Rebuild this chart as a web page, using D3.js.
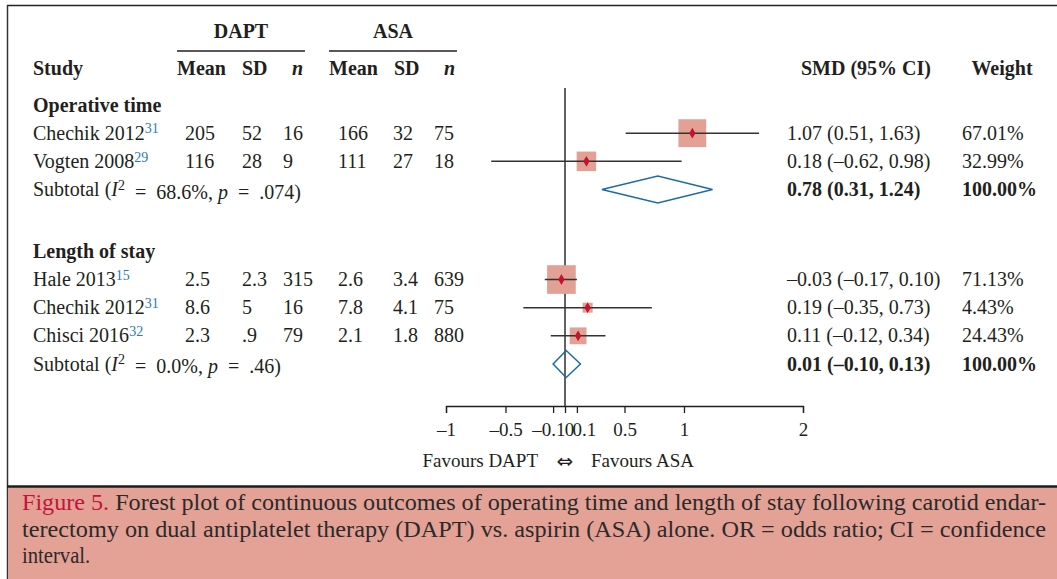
<!DOCTYPE html>
<html>
<head>
<meta charset="utf-8">
<script src="https://cdn.jsdelivr.net/npm/d3@7"></script>
<style>
  body { margin: 0; background: #fff; }
  svg { display: block; }
</style>
</head>
<body>
<svg id="chart" width="1057" height="579"></svg>
<script>
'use strict';

// ---- data ----
var groupLabels = ['Operative time', 'Length of stay'];
var studyNames = ['Chechik 2012', 'Vogten 2008', 'Hale 2013', 'Chechik 2012', 'Chisci 2016'];
var studyRefs = ['31', '29', '15', '31', '32'];
var daptMean = ['205', '116', '2.5', '8.6', '2.3'];
var daptSd = ['52', '28', '2.3', '5', '.9'];
var daptN = ['16', '9', '315', '16', '79'];
var asaMean = ['166', '111', '2.6', '7.8', '2.1'];
var asaSd = ['32', '27', '3.4', '4.1', '1.8'];
var asaN = ['75', '18', '639', '75', '880'];
var smd = [1.07, 0.18, -0.03, 0.19, 0.11];
var ciLow = [0.51, -0.62, -0.17, -0.35, -0.12];
var ciHigh = [1.63, 0.98, 0.10, 0.73, 0.34];
var weights = [67.01, 32.99, 71.13, 4.43, 24.43];
var subSmd = [0.78, 0.01];
var subLow = [0.31, -0.10];
var subHigh = [1.24, 0.13];
var subI2 = ['68.6%', '0.0%'];
var subP = ['.074', '.46'];
var axisTicks = [-1, -0.5, -0.1, 0, 0.1, 0.5, 1, 2];

var captionLines = [
    'Forest plot of continuous outcomes of operating time and length of stay following carotid endar-',
    'terectomy on dual antiplatelet therapy (DAPT) vs. aspirin (ASA) alone. OR = odds ratio; CI = confidence',
    'interval.'
];

// row index of each line (group header, studies, subtotal)
var groupRow = [0, 5.2];
var studyRow = [1, 2, 6.2, 7.2, 8.2];
var subRow = [3, 9.2];

var ink = '#231f20';
var serif = '"Liberation Serif", "Times New Roman", serif';
var fontSize = 20;

var svg = d3.select('#chart');

var x = d3.scaleLinear().domain([-1, 2]).range([446, 803]);
var y = d3.scaleLinear().domain([0, 9.2]).range([105, 364]);
var boxSize = d3.scaleSqrt().domain([0, 100]).range([0, 34]);

var colX = [185, 242, 283, 338, 393, 434];
var smdX = 787;
var weightX = 962;
var eq = '\u2002=\u2002';

var fmt = function(v) {
    return (v < 0 ? '\u2013' : '') + Math.abs(v).toFixed(2);
};
var ciText = function(m, lo, hi) {
    return fmt(m) + ' (' + fmt(lo) + ', ' + fmt(hi) + ')';
};

var txt = function(xp, yp, s, opts) {
    opts = opts || {};
    return svg.append('text')
        .attr('x', xp)
        .attr('y', yp)
        .attr('dy', '0.33em')
        .attr('font-family', opts.family || serif)
        .attr('font-size', opts.size || fontSize)
        .attr('font-weight', opts.bold ? 'bold' : null)
        .attr('font-style', opts.italic ? 'italic' : null)
        .attr('text-anchor', opts.anchor || 'start')
        .attr('fill', opts.fill || ink)
        .text(s);
};

// ---- frame ----
svg.append('line').attr('x1', 7).attr('x2', 1057).attr('y1', 5.5).attr('y2', 5.5)
    .attr('stroke', '#222').attr('stroke-width', 1.5);
svg.append('line').attr('x1', 7.5).attr('x2', 7.5).attr('y1', 5).attr('y2', 579)
    .attr('stroke', '#333').attr('stroke-width', 1.5);

// ---- column headers ----
txt(241, 31, 'DAPT', {bold: true, anchor: 'middle'});
txt(393, 31, 'ASA', {bold: true, anchor: 'middle'});
svg.append('line').attr('x1', 177).attr('x2', 305).attr('y1', 51).attr('y2', 51)
    .attr('stroke', ink).attr('stroke-width', 1.3);
svg.append('line').attr('x1', 329).attr('x2', 457).attr('y1', 51).attr('y2', 51)
    .attr('stroke', ink).attr('stroke-width', 1.3);

txt(33, 68, 'Study', {bold: true});
txt(177, 68, 'Mean', {bold: true});
txt(242, 68, 'SD', {bold: true});
txt(303, 68, 'n', {bold: true, italic: true, anchor: 'end'});
txt(329, 68, 'Mean', {bold: true});
txt(394, 68, 'SD', {bold: true});
txt(455, 68, 'n', {bold: true, italic: true, anchor: 'end'});
txt(866, 68, 'SMD (95% CI)', {bold: true, anchor: 'middle'});
txt(1002, 68, 'Weight', {bold: true, anchor: 'middle'});

// ---- group headers ----
groupLabels.forEach(function(g, i) {
    txt(33, y(groupRow[i]), g, {bold: true});
});

// ---- study rows ----
studyNames.forEach(function(name, i) {
    var yy = y(studyRow[i]);
    var t = txt(33, yy, name);
    t.append('tspan')
        .attr('dy', '-0.45em')
        .attr('font-size', 14)
        .attr('fill', '#2a7ab8')
        .text(studyRefs[i]);

    [daptMean, daptSd, daptN, asaMean, asaSd, asaN].forEach(function(col, c) {
        txt(colX[c], yy, col[i]);
    });

    txt(smdX, yy, ciText(smd[i], ciLow[i], ciHigh[i]));
    txt(weightX, yy, weights[i].toFixed(2) + '%');
});

// ---- subtotal rows ----
subSmd.forEach(function(m, i) {
    var yy = y(subRow[i]);
    var t = txt(33, yy, 'Subtotal (');
    t.append('tspan').attr('font-style', 'italic').text('I');
    t.append('tspan').attr('dy', '-0.45em').attr('font-size', 14).text('2');
    t.append('tspan').attr('dy', '0.45em').text(eq + subI2[i] + ', ');
    t.append('tspan').attr('font-style', 'italic').text('p');
    t.append('tspan').text(eq + subP[i] + ')');

    txt(smdX, yy, ciText(m, subLow[i], subHigh[i]), {bold: true});
    txt(weightX, yy, '100.00%', {bold: true});
});

// ---- forest plot ----
var plot = svg.append('g');

plot.append('line')
    .attr('x1', x(0)).attr('x2', x(0))
    .attr('y1', 88).attr('y2', 406)
    .attr('stroke', ink).attr('stroke-width', 1.4);

var idx = d3.range(studyNames.length);
var side = function(i) { return Math.max(10, boxSize(weights[i])); };

plot.selectAll('rect.box')
    .data(idx)
    .join('rect')
    .attr('class', 'box')
    .attr('x', function(i) { return x(smd[i]) - side(i) / 2; })
    .attr('y', function(i) { return y(studyRow[i]) - side(i) / 2; })
    .attr('width', side)
    .attr('height', side)
    .attr('fill', '#e3a195');

plot.selectAll('line.ci')
    .data(idx)
    .join('line')
    .attr('class', 'ci')
    .attr('x1', function(i) { return x(ciLow[i]); })
    .attr('x2', function(i) { return x(ciHigh[i]); })
    .attr('y1', function(i) { return y(studyRow[i]); })
    .attr('y2', function(i) { return y(studyRow[i]); })
    .attr('stroke', '#333')
    .attr('stroke-width', 1.5);

plot.selectAll('path.pt')
    .data(idx)
    .join('path')
    .attr('class', 'pt')
    .attr('d', d3.symbol(d3.symbolDiamond, 34))
    .attr('transform', function(i) { return 'translate(' + x(smd[i]) + ',' + y(studyRow[i]) + ')'; })
    .attr('fill', '#c4122f');

plot.selectAll('path.diamond')
    .data(d3.range(subSmd.length))
    .join('path')
    .attr('class', 'diamond')
    .attr('d', function(i) {
        var yy = y(subRow[i]);
        return 'M' + x(subLow[i]) + ',' + yy +
            'L' + x(subSmd[i]) + ',' + (yy - 13.5) +
            'L' + x(subHigh[i]) + ',' + yy +
            'L' + x(subSmd[i]) + ',' + (yy + 13.5) + 'Z';
    })
    .attr('fill', 'none')
    .attr('stroke', '#1b6ca3')
    .attr('stroke-width', 1.5);

// ---- axis ----
var axis = d3.axisBottom(x)
    .tickValues(axisTicks)
    .tickSize(7)
    .tickSizeOuter(7)
    .tickPadding(10)
    .tickFormat(function(d) { return (d < 0 ? '\u2013' : '') + Math.abs(d); });

var ax = svg.append('g')
    .attr('transform', 'translate(0,406)')
    .call(axis);
ax.select('.domain').attr('stroke', ink).attr('stroke-width', 1.3);
ax.selectAll('.tick line').attr('stroke', ink).attr('stroke-width', 1.3);
ax.selectAll('.tick text')
    .attr('font-family', serif)
    .attr('font-size', 19)
    .attr('fill', ink)
    // the three labels around zero are pushed apart so they do not collide
    .attr('text-anchor', function(d) {
        if (d === -0.1) return 'end';
        if (d === 0.1) return 'start';
        return 'middle';
    })
    .attr('dx', function(d) {
        if (d === -0.1) return 12;
        if (d === 0) return 4;
        if (d === 0.1) return -5;
        return 0;
    });

txt(x(0) - 27, 461, 'Favours DAPT', {size: 19, anchor: 'end'});
txt(x(0), 461, '\u21d4', {size: 20, anchor: 'middle', family: '"DejaVu Sans", sans-serif'});
txt(x(0) + 26, 461, 'Favours ASA', {size: 19});

// ---- caption ----
svg.append('rect')
    .attr('x', 8).attr('y', 487)
    .attr('width', 1049).attr('height', 92)
    .attr('fill', '#e4a195');
svg.append('line').attr('x1', 7).attr('x2', 1057).attr('y1', 486.5).attr('y2', 486.5)
    .attr('stroke', '#1e1e1e').attr('stroke-width', 2.5);

var capLeft = 22;
var capRight = 1046;
var capSize = 24;
var capInk = '#2a2a2a';

captionLines.forEach(function(line, i) {
    var t = svg.append('text')
        .attr('x', capLeft)
        .attr('y', 510 + i * 26.5)
        .attr('font-family', serif)
        .attr('font-size', capSize)
        .attr('fill', capInk);
    if (i === 0) {
        t.append('tspan').attr('fill', '#c0143c').text('Figure 5.');
        t.append('tspan').text(' ' + line);
    } else {
        t.text(line);
    }
    var w = t.node().getComputedTextLength();
    var target = capRight - capLeft;
    if (i < captionLines.length - 1) {
        // justified lines: squeeze the glyphs to fill the measure exactly
        t.attr('textLength', target).attr('lengthAdjust', 'spacingAndGlyphs');
    } else {
        // last line keeps the same squeeze ratio as a full line
        t.attr('textLength', w * 0.86).attr('lengthAdjust', 'spacingAndGlyphs');
    }
});
</script>
</body>
</html>
